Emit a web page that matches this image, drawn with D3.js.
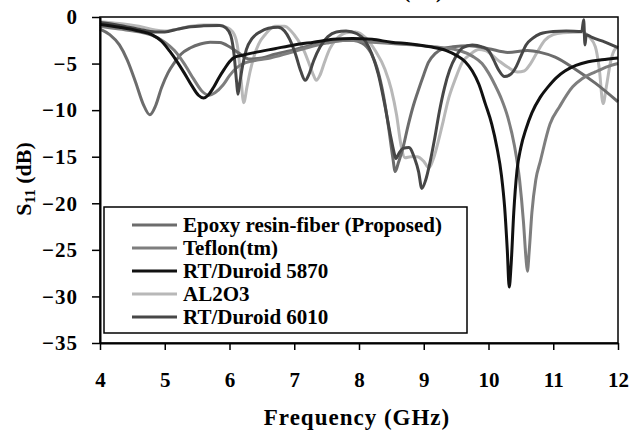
<!DOCTYPE html>
<html>
<head>
<meta charset="utf-8">
<script src="https://cdn.jsdelivr.net/npm/d3@7"></script>
<style>
  html, body { margin: 0; padding: 0; background: #ffffff; }
  svg { display: block; }
  text { font-family: "Liberation Serif", "Times New Roman", serif; font-weight: bold; fill: #000; }
</style>
</head>
<body>
<svg id="chart" width="640" height="430"></svg>
<script>
// Return loss S11 (dB) versus frequency (GHz) for five substrate materials

const seriesNames = [
  "Epoxy resin-fiber (Proposed)",
  "Teflon(tm)",
  "RT/Duroid 5870",
  "AL2O3",
  "RT/Duroid 6010"
];

const xTicks = [4, 5, 6, 7, 8, 9, 10, 11, 12];
const yTicks = [0, -5, -10, -15, -20, -25, -30, -35];

const epoxyFreq = [4.0, 4.15, 4.3, 4.42, 4.55, 4.67, 4.77, 4.86, 4.95, 5.05, 5.15, 5.25, 5.4, 5.55, 5.7, 5.85, 6.0, 6.15, 6.3, 6.5, 6.7, 7.0, 7.3, 7.6, 7.9, 8.05, 8.18, 8.28, 8.38, 8.46, 8.52, 8.56, 8.61, 8.67, 8.76, 8.84, 8.91, 9.0, 9.07, 9.18, 9.3, 9.45, 9.7, 10.0, 10.3, 10.6, 10.8, 11.03, 11.34, 11.65, 12.0];
const epoxyS11  = [-1.3, -1.9, -3.0, -4.6, -7.0, -9.4, -10.5, -9.5, -7.6, -6.0, -4.9, -4.0, -3.3, -2.9, -2.7, -2.75, -3.2, -3.9, -4.5, -4.4, -4.0, -3.5, -3.0, -2.6, -2.5, -2.8, -3.8, -5.5, -8.5, -12.0, -15.0, -16.6, -15.6, -14.3, -11.6, -9.5, -8.0, -6.2, -4.9, -3.9, -3.4, -3.2, -3.1, -3.4, -3.8, -3.6, -3.8, -4.3, -5.6, -7.1, -9.1];

const teflonFreq = [4.0, 4.3, 4.6, 4.85, 5.0, 5.15, 5.3, 5.45, 5.58, 5.68, 5.78, 5.9, 6.0, 6.1, 6.25, 6.45, 6.63, 6.9, 7.2, 7.5, 7.8, 8.2, 8.6, 9.0, 9.3, 9.55, 9.75, 9.9, 10.0, 10.1, 10.2, 10.3, 10.4, 10.48, 10.54, 10.58, 10.6, 10.63, 10.67, 10.73, 10.8, 10.95, 11.1, 11.3, 11.45, 11.65, 11.85, 12.0];
const teflonS11  = [-1.0, -1.3, -1.6, -2.1, -2.7, -3.6, -5.0, -6.7, -8.0, -8.4, -8.1, -7.3, -6.3, -5.5, -4.9, -4.6, -4.4, -3.9, -3.3, -2.8, -2.5, -2.7, -2.9, -3.1, -3.3, -3.6, -4.2, -5.0, -6.0, -7.3, -8.8, -10.8, -13.8, -17.5, -22.0, -26.0, -27.3, -25.0, -21.0, -17.5, -15.5, -11.5, -9.6, -7.5, -6.6, -5.9, -5.3, -5.0];

const duroid5870Freq = [4.0, 4.3, 4.6, 4.8, 4.95, 5.08, 5.2, 5.3, 5.42, 5.52, 5.6, 5.67, 5.75, 5.83, 5.92, 6.0, 6.08, 6.2, 6.4, 6.7, 7.0, 7.3, 7.6, 7.9, 8.2, 8.5, 8.8, 9.1, 9.35, 9.5, 9.64, 9.75, 9.85, 9.95, 10.05, 10.13, 10.2, 10.25, 10.29, 10.32, 10.35, 10.39, 10.44, 10.5, 10.58, 10.67, 10.8, 10.92, 11.05, 11.18, 11.35, 11.54, 11.75, 12.0];
const duroid5870S11  = [-0.8, -1.1, -1.5, -1.9, -2.6, -3.7, -4.9, -6.0, -7.4, -8.4, -8.7, -8.4, -7.6, -6.6, -5.6, -4.8, -4.3, -4.1, -3.8, -3.4, -3.0, -2.7, -2.4, -2.3, -2.4, -2.7, -2.9, -3.2, -3.6, -4.1, -4.8, -5.8, -7.2, -9.3, -11.5, -14.0, -17.0, -20.5, -25.0, -29.0, -26.5, -21.0, -16.5, -14.0, -12.0, -10.3, -8.6, -7.5, -6.5, -5.8, -5.2, -4.8, -4.6, -4.4];

const al2o3Freq = [4.0, 4.3, 4.6, 4.85, 5.0, 5.2, 5.4, 5.6, 5.8, 5.95, 6.05, 6.12, 6.17, 6.22, 6.27, 6.32, 6.38, 6.45, 6.55, 6.7, 6.85, 6.95, 7.05, 7.15, 7.24, 7.3, 7.34, 7.4, 7.47, 7.55, 7.65, 7.8, 7.95, 8.1, 8.25, 8.4, 8.5, 8.58, 8.65, 8.71, 8.8, 8.9, 9.0, 9.08, 9.15, 9.23, 9.3, 9.37, 9.48, 9.6, 9.72, 9.85, 9.95, 10.14, 10.3, 10.45, 10.55, 10.65, 10.75, 10.87, 11.0, 11.15, 11.45, 11.55, 11.65, 11.71, 11.77, 11.82, 11.88, 11.94, 12.0];
const al2o3S11  = [-0.5, -0.7, -1.0, -1.4, -1.5, -1.3, -1.0, -0.85, -0.85, -1.1, -1.6, -3.0, -6.0, -9.2, -7.5, -5.8, -4.2, -2.9, -1.9, -1.0, -1.0, -1.5, -2.4, -3.6, -5.2, -6.3, -6.8, -6.2, -4.8, -3.4, -2.4, -1.7, -1.6, -2.2, -3.6, -5.6, -7.8, -10.5, -13.8, -15.1, -15.0, -15.0, -15.5, -16.2, -15.2, -13.2, -11.2, -9.1, -6.8, -4.8, -4.0, -3.5, -3.6, -4.6, -5.4, -5.9, -5.8, -5.0, -3.8, -2.5, -1.9, -1.7, -1.6, -2.1, -3.2, -5.5, -9.3, -7.5, -5.0, -3.6, -3.2];

const duroid6010Freq = [4.0, 4.3, 4.6, 4.85, 5.0, 5.2, 5.4, 5.6, 5.85, 5.95, 6.02, 6.07, 6.11, 6.13, 6.16, 6.2, 6.26, 6.35, 6.47, 6.6, 6.75, 6.85, 6.93, 7.02, 7.1, 7.17, 7.23, 7.3, 7.4, 7.52, 7.65, 7.8, 7.97, 8.1, 8.2, 8.3, 8.4, 8.48, 8.54, 8.57, 8.62, 8.68, 8.77, 8.86, 8.92, 8.97, 9.03, 9.1, 9.17, 9.24, 9.32, 9.4, 9.5, 9.6, 9.75, 9.9, 10.0, 10.08, 10.15, 10.25, 10.35, 10.43, 10.5, 10.58, 10.68, 10.8, 11.0, 11.2, 11.44, 11.47, 11.49, 11.51, 11.6, 11.8, 12.0];
const duroid6010S11  = [-0.6, -0.9, -1.3, -1.6, -1.6, -1.3, -1.05, -0.95, -0.9, -1.2, -2.0, -4.0, -7.0, -8.3, -7.0, -5.3, -3.5, -2.3, -1.6, -1.2, -1.1, -1.5, -2.4, -4.0, -5.8, -6.8, -6.1, -4.7, -3.2, -2.1, -1.6, -1.5, -1.8, -2.6, -4.0, -6.2, -9.5, -12.5, -14.5, -15.2, -14.6, -14.1, -14.0, -15.2, -16.6, -18.4, -17.5, -15.5, -13.0, -10.2, -7.6, -5.7, -4.2, -3.3, -3.0, -3.2, -3.6, -4.6, -5.6, -6.4, -6.1, -5.3, -4.2, -3.0, -2.3, -1.8, -1.55, -1.5, -1.55, -0.3, -3.0, -1.9, -2.2, -2.7, -3.3];

const seriesColors = ["#6c6c6c", "#7e7e7e", "#111111", "#b8b8b8", "#474747"];

const seriesData = [
  [epoxyFreq, epoxyS11],
  [teflonFreq, teflonS11],
  [duroid5870Freq, duroid5870S11],
  [al2o3Freq, al2o3S11],
  [duroid6010Freq, duroid6010S11]
].map(([f, s]) => f.map((v, i) => ({ f: v, s: s[i] })));

const svg = d3.select("#chart");

const plot = { left: 100, right: 618, top: 17, bottom: 343 };

const x = d3.scaleLinear().domain([4, 12]).range([plot.left, plot.right]);
const y = d3.scaleLinear().domain([-35, 0]).range([plot.bottom, plot.top]);

// Curves
const line = d3.line()
  .x(d => x(d.f))
  .y(d => y(d.s))
  .curve(d3.curveMonotoneX);

const curves = svg.append("g");
// draw order: lighter first so darker traces sit on top
const drawOrder = [3, 0, 1, 4, 2];
drawOrder.forEach(i => {
  curves.append("path")
    .datum(seriesData[i])
    .attr("d", line)
    .attr("fill", "none")
    .attr("stroke", seriesColors[i])
    .attr("stroke-width", 3)
    .attr("stroke-linejoin", "round");
});

// Plot frame (top and right edges)
svg.append("rect")
  .attr("x", plot.left)
  .attr("y", plot.top)
  .attr("width", plot.right - plot.left)
  .attr("height", plot.bottom - plot.top)
  .attr("fill", "none")
  .attr("stroke", "#000")
  .attr("stroke-width", 1.5);

// Axes
const yAxis = d3.axisLeft(y).tickValues(yTicks).tickSize(8).tickSizeOuter(0).tickPadding(14);
const xAxis = d3.axisBottom(x).tickValues(xTicks).tickSize(7).tickSizeOuter(0).tickPadding(22);

const gy = svg.append("g").attr("transform", `translate(${plot.left},0)`).call(yAxis);
const gx = svg.append("g").attr("transform", `translate(0,${plot.bottom})`).call(xAxis);

[gx, gy].forEach(g => {
  g.select(".domain").attr("stroke", "#000").attr("stroke-width", 2);
  g.selectAll(".tick line").attr("stroke", "#000").attr("stroke-width", 1.5);
  g.selectAll(".tick text")
    .style("font-family", '"Liberation Serif", "Times New Roman", serif')
    .style("font-weight", "bold")
    .style("font-size", "21px")
    .attr("fill", "#000");
});
gy.selectAll(".tick text").style("letter-spacing", "1px");

// Axis titles
svg.append("text")
  .attr("x", 357)
  .attr("y", 425)
  .attr("text-anchor", "middle")
  .style("font-size", "23px")
  .style("letter-spacing", "1px")
  .text("Frequency (GHz)");

const yTitle = svg.append("text")
  .attr("transform", "translate(31,179) rotate(-90)")
  .attr("text-anchor", "middle")
  .style("font-size", "22px");
yTitle.append("tspan").text("S");
yTitle.append("tspan").attr("dy", 4).style("font-size", "15px").text("11");
yTitle.append("tspan").attr("dy", -4).text(" (dB)");

// Chart title, mostly above the visible area
const title = svg.append("text")
  .attr("x", 443)
  .attr("y", -2)
  .attr("text-anchor", "end")
  .style("font-size", "21px");
title.append("tspan").text("S11 (dB)");

// Legend
const legend = svg.append("g");
legend.append("rect")
  .attr("x", 104)
  .attr("y", 207)
  .attr("width", 363)
  .attr("height", 126)
  .attr("fill", "#fff")
  .attr("stroke", "#000")
  .attr("stroke-width", 1.5);

const legendRows = legend.selectAll("g.item")
  .data(seriesNames)
  .join("g")
  .attr("class", "item")
  .attr("transform", (d, i) => `translate(0,${225 + i * 23})`);

legendRows.append("line")
  .attr("x1", 132).attr("x2", 177)
  .attr("y1", 0).attr("y2", 0)
  .attr("stroke", (d, i) => seriesColors[i])
  .attr("stroke-width", 3);

legendRows.append("text")
  .attr("x", 183)
  .attr("y", 0)
  .attr("dy", "0.35em")
  .style("font-size", "21px")
  .text(d => d);
</script>
</body>
</html>
